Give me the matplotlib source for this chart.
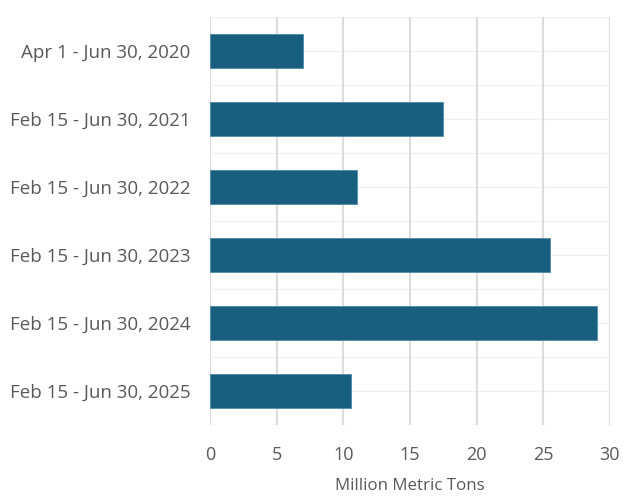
import numpy as np
import matplotlib
matplotlib.use("Agg")
import matplotlib.pyplot as plt

# data
periods = [
    "Apr 1 - Jun 30, 2020",
    "Feb 15 - Jun 30, 2021",
    "Feb 15 - Jun 30, 2022",
    "Feb 15 - Jun 30, 2023",
    "Feb 15 - Jun 30, 2024",
    "Feb 15 - Jun 30, 2025",
]
volumes = [7.0, 17.5, 11.0, 25.5, 29.0, 10.6]
x_ticks = [0, 5, 10, 15, 20, 25, 30]

plt.rcParams["font.family"] = ["Open Sans", "DejaVu Sans"]

fig = plt.figure(figsize=(6.33, 5.0), dpi=100)
ax = fig.add_axes([210 / 633, 75 / 500, 400 / 633, 408 / 500])

y = np.arange(len(periods))
ax.barh(y, volumes, height=0.5, color="#175E7F", edgecolor="#4f8aa6",
        linewidth=0.6, zorder=3)

ax.set_ylim(len(periods) - 0.5, -0.5)
ax.set_xlim(0, 30)
ax.set_xticks(x_ticks)
ax.set_yticks(y)
ax.set_yticklabels(periods)

# faint horizontal lines at every half category
for yy in np.arange(-0.5, len(periods), 0.5):
    ax.axhline(yy, color="#f0f0f0", linewidth=1.0, zorder=1)
ax.grid(axis="x", color="#dcdcdc", linewidth=1.5, zorder=2)

for s in ax.spines.values():
    s.set_visible(False)
ax.tick_params(axis="both", length=0, colors="#595959")
ax.tick_params(axis="x", labelsize=13, pad=15)
ax.tick_params(axis="y", labelsize=13.5, pad=14)
ax.set_xlabel("Million Metric Tons", fontsize=12.2, color="#595959", labelpad=10)

fig.savefig("out.png", dpi=100)
